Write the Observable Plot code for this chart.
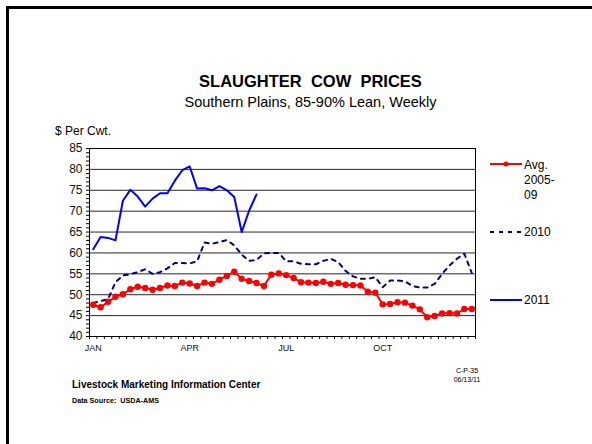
<!DOCTYPE html>
<html>
<head>
<meta charset="utf-8">
<script src="https://cdn.jsdelivr.net/npm/d3@7"></script>
<script src="https://cdn.jsdelivr.net/npm/@observablehq/plot@0.6"></script>
<style>
  html, body { margin: 0; padding: 0; background: #fff; }
  #page { position: relative; width: 592px; height: 444px; overflow: hidden; font-family: "Liberation Sans", Arial, sans-serif; color: #000; }
  .t { position: absolute; white-space: pre; line-height: 1; }
  #frame { position: absolute; left: 6px; top: 6px; width: 600px; height: 460px; border-left: 3px solid #000; border-top: 3px solid #000; }
  #chart { position: absolute; left: 0; top: 130px; }
</style>
</head>
<body>
<div id="page">
  <div id="frame"></div>
  <div class="t" style="left:0;width:621px;text-align:center;top:73px;font-size:16.5px;font-weight:bold;">SLAUGHTER  COW  PRICES</div>
  <div class="t" style="left:0;width:621px;text-align:center;top:95px;font-size:14.5px;">Southern Plains, 85-90% Lean, Weekly</div>
  <div class="t" style="left:55px;top:125px;font-size:12px;">$ Per Cwt.</div>
  <div id="chart"></div>
  <svg style="position:absolute;left:0;top:0;" width="592" height="444">
    <line x1="490" x2="522" y1="164" y2="164" stroke="#ff0000" stroke-width="2"/>
    <circle cx="506" cy="164" r="2.5" fill="#ff0000"/>
    <line x1="490" x2="522" y1="232" y2="232" stroke="#000080" stroke-width="2" stroke-dasharray="4,5"/>
    <line x1="490" x2="522" y1="300" y2="300" stroke="#0000ff" stroke-width="2"/>
  </svg>
  <div class="t" style="left:524px;top:158px;font-size:12px;line-height:15px;">Avg.
2005-
09</div>
  <div class="t" style="left:524px;top:226px;font-size:12px;">2010</div>
  <div class="t" style="left:524px;top:294px;font-size:12px;">2011</div>
  <div class="t" style="left:72px;top:380px;font-size:10px;font-weight:bold;">Livestock Marketing Information Center</div>
  <div class="t" style="left:72px;top:397px;font-size:7.2px;font-weight:bold;">Data Source:  USDA-AMS</div>
  <div class="t" style="left:437px;width:60px;text-align:center;top:366px;font-size:7px;line-height:9px;">C-P-35
06/13/11</div>
</div>
<script>
// Weekly data (week 1..52)
const weeks = d3.range(1, 53);
const avg2005_09 = [47.6, 47.0, 48.3, 49.5, 50.1, 51.3, 51.9, 51.6, 51.2, 51.6, 52.2, 52.1, 52.9, 52.7, 52.1, 52.9, 52.6, 53.6, 54.5, 55.5,
  53.8, 53.3, 52.8, 52.1, 54.8, 55.1, 54.7, 54.0, 53.0, 52.9, 52.8, 53.1, 52.6, 52.8, 52.4, 52.3, 52.2, 50.7, 50.5, 47.7,
  47.8, 48.2, 48.1, 47.4, 46.5, 44.6, 44.9, 45.5, 45.6, 45.5, 46.6, 46.6];
const prices2010 = [48.0, 48.5, 48.9, 53.0, 54.6, 54.9, 55.4, 56.1, 55.0, 55.4, 56.3, 57.6, 57.6, 57.5, 58.0, 62.5, 62.2, 62.6, 63.1, 61.8,
  59.6, 58.1, 58.3, 59.9, 60.0, 60.0, 58.0, 58.0, 57.4, 57.3, 57.3, 58.1, 58.6, 57.8, 55.7, 54.4, 53.8, 53.8, 54.2, 51.8,
  53.4, 53.4, 53.2, 52.1, 51.7, 51.7, 52.6, 55.0, 57.0, 58.6, 59.8, 55.2];
const prices2011 = [60.9, 63.8, 63.6, 63.0, 72.5, 75.1, 73.5, 71.1, 73.0, 74.3, 74.3, 77.3, 79.8, 80.7, 75.4, 75.5, 75.0, 76.0, 75.0, 73.4,
  65.0, 70.1, 74.0];
const monthLabels = ["JAN", "APR", "JUL", "OCT"];
const monthWeeks = [1, 14, 27, 40];
const yLabels = [40, 45, 50, 55, 60, 65, 70, 75, 80, 85];
const gridValues = [45, 50, 55, 60, 65, 70, 75, 80];

const avgData = weeks.map((w, i) => ({week: w, value: avg2005_09[i]}));
const data2010 = weeks.map((w, i) => ({week: w, value: prices2010[i]}));
const data2011 = prices2011.map((v, i) => ({week: weeks[i], value: v}));
const monthMap = new Map(monthWeeks.map((w, i) => [w, monthLabels[i]]));

const chart = Plot.plot({
  width: 500,
  height: 230,
  marginLeft: 89,
  marginRight: 25,
  marginTop: 18,
  marginBottom: 24,
  x: {domain: [0.5, 52.5], label: null},
  y: {domain: [40, 85], label: null},
  style: {fontFamily: "'Liberation Sans', Arial, sans-serif", background: "transparent", color: "#000"},
  marks: [
    Plot.ruleY(gridValues, {stroke: "#000", strokeWidth: 1, strokeOpacity: 0.85}),
    Plot.axisY(d3.range(40, 86, 1), {label: null, tickSize: 3, tickPadding: 4, stroke: "#000", fontSize: 12, fill: "#111",
      tickFormat: d => yLabels.includes(d) ? String(d) : ""}),
    Plot.axisX(d3.range(0.5, 53, 1), {label: null, tickSize: 3, stroke: "#000", tickFormat: () => ""}),
    Plot.axisX(monthWeeks, {label: null, tickSize: 0, tickPadding: 8, fontSize: 9, fill: "#111", tickFormat: d => monthMap.get(d)}),
    Plot.frame({stroke: "#000", strokeWidth: 1}),
    Plot.line(data2010, {x: "week", y: "value", stroke: "#000080", strokeWidth: 2, strokeDasharray: "4,5"}),
    Plot.line(avgData, {x: "week", y: "value", stroke: "#ff0000", strokeWidth: 2}),
    Plot.dot(avgData, {x: "week", y: "value", fill: "#ff0000", r: 3.2}),
    Plot.line(data2011, {x: "week", y: "value", stroke: "#0000ff", strokeWidth: 2})
  ]
});
document.getElementById("chart").appendChild(chart);
</script>
</body>
</html>
